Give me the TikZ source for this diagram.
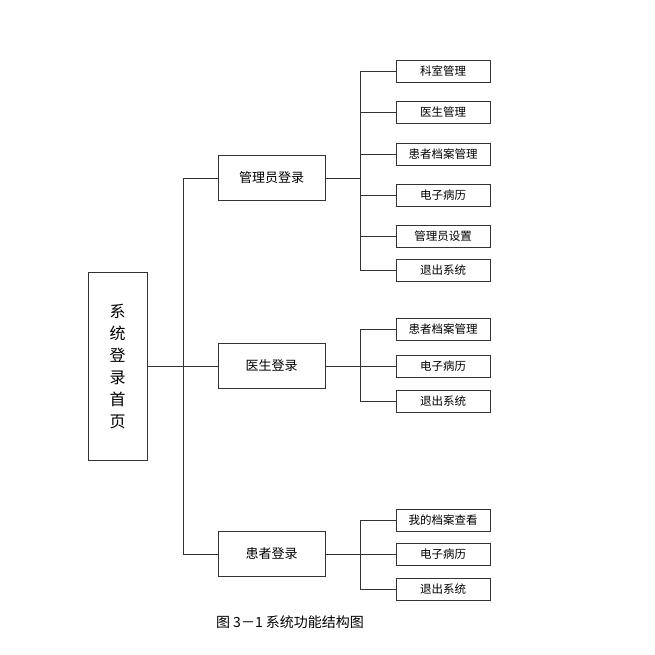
\documentclass[tikz,border=0pt]{standalone}
\usepackage{fontspec}
\newfontfamily\cjk{Noto Sans CJK SC}
\usetikzlibrary{positioning}
\begin{document}
\begin{tikzpicture}[x=1pt,y=-1pt, every node/.style={font=\cjk\fontsize{11.5}{13}\selectfont},
    box/.style={draw=black!80, minimum width=107pt, minimum height=45pt, inner sep=0pt,
                font=\cjk\fontsize{13}{15}\selectfont},
    leaf/.style={draw=black!80, minimum width=94pt, minimum height=22pt, inner sep=0pt},
    link/.style={draw=black!80, line width=0.5pt}]
    \useasboundingbox (0,0) rectangle (655,655);

    % Root
    \node[draw=black!80, minimum width=59pt, minimum height=188pt, align=center, inner sep=0pt,
          font=\cjk\fontsize{16}{22}\selectfont] (root) at (117.5,366) {系\\统\\登\\录\\首\\页};

    % Second level
    \node[box] (admin) at (271.5,178) {管理员登录};
    \node[box] (doctor) at (271.5,366) {医生登录};
    \node[box] (patient) at (271.5,554) {患者登录};

    % Trunk
    \coordinate (t1) at (183,178);
    \coordinate (t2) at (183,366);
    \coordinate (t3) at (183,554);
    \draw[link] (root.east) -- (t2);
    \draw[link] (t1) -- (t3);
    \draw[link] (t1) -- (admin.west);
    \draw[link] (t2) -- (doctor.west);
    \draw[link] (t3) -- (patient.west);

    % Admin leaves
    \foreach \name/\yy/\txt in {a1/71/科室管理, a2/112/医生管理, a3/154/患者档案管理,
                                a4/195/电子病历, a5/236/管理员设置, a6/270/退出系统}{
        \node[leaf] (\name) at (443,\yy) {\txt};
        \draw[link] (360,\yy) -- (\name.west);
    }
    \draw[link] (admin.east) -- (360,178);
    \draw[link] (360,71) -- (360,270);

    % Doctor leaves
    \foreach \name/\yy/\txt in {d1/329/患者档案管理, d2/366/电子病历, d3/401/退出系统}{
        \node[leaf] (\name) at (443,\yy) {\txt};
        \draw[link] (360,\yy) -- (\name.west);
    }
    \draw[link] (doctor.east) -- (d2.west);
    \draw[link] (360,329) -- (360,401);

    % Patient leaves
    \foreach \name/\yy/\txt in {p1/520/我的档案查看, p2/554/电子病历, p3/589/退出系统}{
        \node[leaf] (\name) at (443,\yy) {\txt};
        \draw[link] (360,\yy) -- (\name.west);
    }
    \draw[link] (patient.east) -- (p2.west);
    \draw[link] (360,520) -- (360,589);

    % Caption
    \node[font=\cjk\fontsize{14}{16}\selectfont] (caption) at (290,622) {图 3－1 系统功能结构图};
\end{tikzpicture}
\end{document}
